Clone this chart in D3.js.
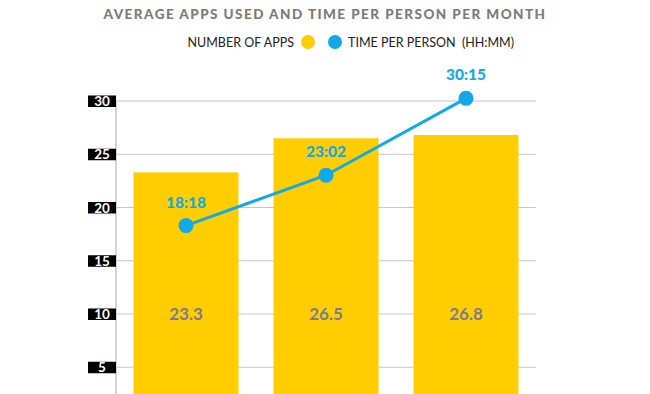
<!DOCTYPE html>
<html>
<head>
<meta charset="utf-8">
<script src="https://cdn.jsdelivr.net/npm/d3@7"></script>
<style>
  html, body { margin: 0; padding: 0; background: #fff; }
  svg { display: block; }
</style>
</head>
<body>
<svg id="chart" width="650" height="394"></svg>
<script>
const categories = ["A", "B", "C"];
const appsValues = [23.3, 26.5, 26.8];
const timeLabels = ["18:18", "23:02", "30:15"];
const yTicks = [5, 10, 15, 20, 25, 30];
const titleText = "AVERAGE APPS USED AND TIME PER PERSON PER MONTH";
const legendApps = "NUMBER OF APPS";
const legendTime = "TIME PER PERSON  (HH:MM)";

const timeHours = timeLabels.map(s => { const [h, m] = s.split(":").map(Number); return h + m / 60; });

const YELLOW = "#ffcd00";
const BLUE = "#12a9e9";

const svg = d3.select("#chart");

const x = d3.scaleBand().domain(categories).range([116, 536]).paddingInner(0.25).paddingOuter(0.125);
const y = d3.scaleLinear().domain([0, 30]).range([420.5, 101]);

// title
svg.append("text")
  .attr("x", 325).attr("y", 19)
  .attr("text-anchor", "middle")
  .attr("font-family", "Lato").attr("font-weight", 900)
  .attr("font-size", 13.5).attr("letter-spacing", 1.45)
  .attr("fill", "#7b7b7b")
  .text(titleText);

// legend
svg.append("text")
  .attr("x", 294).attr("y", 46.5)
  .attr("text-anchor", "end")
  .attr("font-family", "Lato").attr("font-size", 12.5)
  .attr("fill", "#222")
  .text(legendApps);
svg.append("circle").attr("cx", 308).attr("cy", 42).attr("r", 7).attr("fill", YELLOW);
svg.append("circle").attr("cx", 335).attr("cy", 42).attr("r", 7).attr("fill", BLUE);
svg.append("text")
  .attr("x", 348).attr("y", 46.5)
  .attr("font-family", "Lato").attr("font-size", 12.5)
  .attr("fill", "#222")
  .attr("xml:space", "preserve")
  .text(legendTime);

// gridlines
svg.append("g").selectAll("line").data(yTicks).join("line")
  .attr("x1", 116).attr("x2", 536)
  .attr("y1", d => y(d)).attr("y2", d => y(d))
  .attr("stroke", "#c8c8c8").attr("stroke-width", 1);

// vertical axis line
svg.append("line")
  .attr("x1", 116).attr("x2", 116)
  .attr("y1", y(30)).attr("y2", 394)
  .attr("stroke", "#c8c8c8").attr("stroke-width", 1.5);

// tick labels in black boxes
const tg = svg.append("g").selectAll("g").data(yTicks).join("g")
  .attr("transform", d => `translate(0,${y(d)})`);
tg.append("rect").attr("x", 88).attr("y", -5.5).attr("width", 28).attr("height", 11.5).attr("fill", "#000");
tg.append("text")
  .attr("x", 102).attr("y", 5)
  .attr("text-anchor", "middle")
  .attr("font-family", "Lato").attr("font-weight", 700).attr("font-size", 13.5)
  .attr("fill", "#fff")
  .text(d => d);

// bars
svg.append("g").selectAll("rect").data(appsValues).join("rect")
  .attr("x", (d, i) => x(categories[i]))
  .attr("width", x.bandwidth())
  .attr("y", d => y(d))
  .attr("height", d => y(0) - y(d))
  .attr("fill", YELLOW);

// bar value labels
svg.append("g").selectAll("text").data(appsValues).join("text")
  .attr("x", (d, i) => x(categories[i]) + x.bandwidth() / 2)
  .attr("y", y(10) + 6)
  .attr("text-anchor", "middle")
  .attr("font-family", "Lato").attr("font-weight", 700)
  .attr("font-size", 17)
  .attr("fill", "#7d7b8f")
  .text(d => d.toFixed(1));

// line
const line = d3.line()
  .x((d, i) => x(categories[i]) + x.bandwidth() / 2)
  .y(d => y(d));
svg.append("path").datum(timeHours)
  .attr("d", line)
  .attr("fill", "none").attr("stroke", BLUE).attr("stroke-width", 3);

svg.append("g").selectAll("circle").data(timeHours).join("circle")
  .attr("cx", (d, i) => x(categories[i]) + x.bandwidth() / 2)
  .attr("cy", d => y(d))
  .attr("r", 7.5)
  .attr("fill", BLUE);

svg.append("g").selectAll("text").data(timeHours).join("text")
  .attr("x", (d, i) => x(categories[i]) + x.bandwidth() / 2)
  .attr("y", d => y(d) - 18)
  .attr("text-anchor", "middle")
  .attr("font-family", "Lato").attr("font-weight", 900)
  .attr("font-size", 15.5)
  .attr("fill", BLUE)
  .text((d, i) => timeLabels[i]);
</script>
</body>
</html>
